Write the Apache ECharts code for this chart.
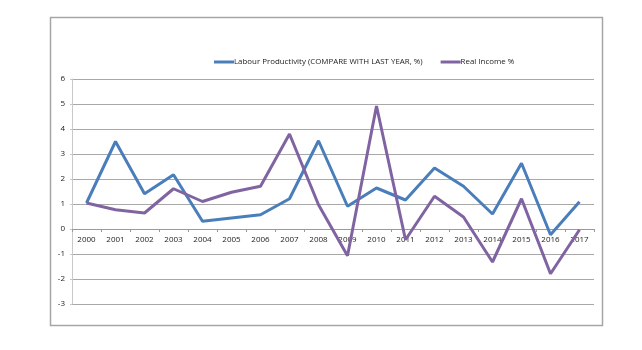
<!DOCTYPE html>
<html>
<head>
<meta charset="utf-8">
<script src="https://cdn.jsdelivr.net/npm/echarts@6/dist/echarts.min.js"></script>
<style>
html,body{margin:0;padding:0;background:#fff;}
#chart{width:642px;height:350px;}
</style>
</head>
<body>
<div id="chart"></div>
<script>
var years = ['2000','2001','2002','2003','2004','2005','2006','2007','2008','2009','2010','2011','2012','2013','2014','2015','2016','2017'];
var labourProductivity = [1.04, 3.5, 1.41, 2.17, 0.31, 0.44, 0.57, 1.21, 3.53, 0.91, 1.64, 1.16, 2.44, 1.71, 0.6, 2.63, -0.23, 1.09];
var realIncome = [1.04, 0.77, 0.64, 1.61, 1.1, 1.47, 1.71, 3.8, 0.97, -1.07, 4.92, -0.43, 1.31, 0.48, -1.32, 1.21, -1.79, -0.03];
var seriesNames = ['Labour Productivity (COMPARE WITH LAST YEAR, %)', 'Real Income %'];
var yTicks = {min: -3, max: 6, interval: 1};

var gridTop = 79, gridBottom = 46, chartH = 350;
var plotH = chartH - gridTop - gridBottom;
var zeroOffset = -plotH * (0 - yTicks.min) / (yTicks.max - yTicks.min);

var chart = echarts.init(document.getElementById('chart'), null, {renderer: 'canvas'});
var font = 'Open Sans';
chart.setOption({
  animation: false,
  color: ['#4A7EBB', '#8064A2'],
  graphic: [{
    type: 'rect',
    shape: {x: 50.5, y: 17.5, width: 552, height: 308},
    style: {fill: 'none', stroke: '#A6A6A6', lineWidth: 1.5},
    silent: true
  }],
  legend: {
    top: 53,
    left: 209,
    itemWidth: 20,
    itemHeight: 3,
    itemGap: 18,
    icon: 'rect',
    textStyle: {fontFamily: font, fontSize: 7.9, color: '#222', padding: [0,0,0,-5]},
    data: seriesNames
  },
  grid: {left: 72, right: 48, top: gridTop, bottom: gridBottom, containLabel: false},
  xAxis: {
    type: 'category',
    data: years,
    boundaryGap: true,
    offset: zeroOffset,
    axisLine: {onZero: false, lineStyle: {color: '#9A9A9A', width: 1}},
    axisTick: {show: true, length: 3, lineStyle: {color: '#9A9A9A'}},
    axisLabel: {fontFamily: font, fontSize: 8, color: '#222', margin: 7}
  },
  yAxis: {
    type: 'value',
    min: yTicks.min, max: yTicks.max, interval: yTicks.interval,
    axisLine: {show: true, lineStyle: {color: '#C8C8C8', width: 1}},
    axisTick: {show: true, length: 2, lineStyle: {color: '#C8C8C8'}},
    axisLabel: {fontFamily: font, fontSize: 8, color: '#222', margin: 7},
    splitLine: {lineStyle: {color: '#A8A8A8', width: 1}}
  },
  series: [
    {name: seriesNames[0], type: 'line', data: labourProductivity, showSymbol: false, symbol: 'none', lineStyle: {width: 3, color: '#4A7EBB'}, itemStyle: {color: '#4A7EBB'}},
    {name: seriesNames[1], type: 'line', data: realIncome, showSymbol: false, symbol: 'none', lineStyle: {width: 3, color: '#8064A2'}, itemStyle: {color: '#8064A2'}}
  ]
});
</script>
</body>
</html>
